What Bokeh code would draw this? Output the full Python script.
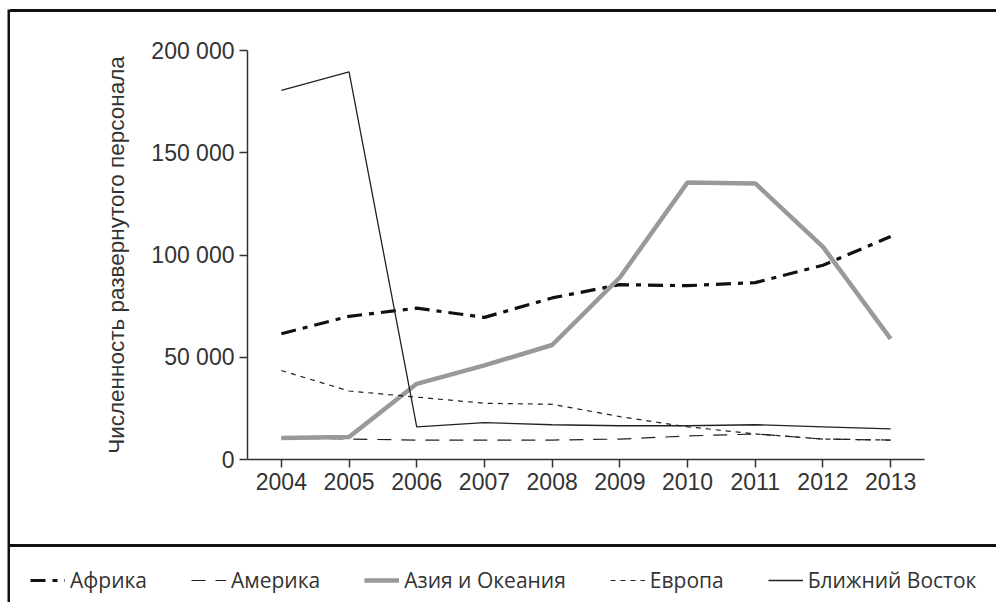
from bokeh.plotting import figure
from bokeh.models import Range1d, FixedTicker, Legend, LegendItem, Div
from bokeh.layouts import column, row
from bokeh.embed import file_html
from bokeh.resources import INLINE

years = [2004, 2005, 2006, 2007, 2008, 2009, 2010, 2011, 2012, 2013]
africa = [61500, 70000, 74000, 69500, 79000, 85500, 85000, 86500, 95000, 109000]
america = [10500, 10000, 9500, 9500, 9500, 10000, 11500, 12500, 10000, 9500]
asia = [10500, 11000, 37000, 46000, 56000, 89000, 135500, 135000, 104000, 59000]
europe = [43500, 33500, 30500, 27500, 27000, 21000, 16000, 12500, 10000, 9500]
near_east = [180500, 189500, 16000, 18000, 17000, 16500, 16500, 17000, 16000, 15000]

y_ticks = [0, 50000, 100000, 150000, 200000]
y_tick_labels = ["0", "50 000", "100 000", "150 000", "200 000"]
y_title = "Численность развернутого персонала"
names = ["Африка", "Америка", "Азия и Океания", "Европа", "Ближний Восток"]

styles = [
    dict(line_color="#111111", line_width=3.2, line_dash="15 7 5 7"),
    dict(line_color="#222222", line_width=1.2, line_dash="14 10"),
    dict(line_color="#999999", line_width=4.5),
    dict(line_color="#222222", line_width=1.2, line_dash="5 5"),
    dict(line_color="#222222", line_width=1.3),
]
series = [africa, america, asia, europe, near_east]

W = 986
H = 532
LH = 55
BW = 3


def vrule(width, height):
    f = figure(width=width, height=height, output_backend="svg", toolbar_location=None,
               title=None, min_border=0, x_axis_location=None, y_axis_location=None,
               x_range=Range1d(0, 1), y_range=Range1d(0, 1))
    f.frame_align = False
    f.grid.visible = False
    f.outline_line_color = None
    f.background_fill_color = "#111111"
    f.border_fill_color = "#111111"
    return f


def hrule(width, height):
    return Div(text="", width=width, height=height, margin=0,
               styles={"background-color": "#111111", "overflow": "hidden"})


p = figure(width=W, height=H, output_backend="svg", toolbar_location=None,
           x_range=Range1d(2003.5, 2013.5), y_range=Range1d(0, 200000),
           min_border_left=237, min_border_right=72, min_border_top=38, min_border_bottom=85)
p.frame_align = False
p.outline_line_color = None
p.grid.visible = False

for s, st in zip(series, styles):
    p.line(years, s, **st)

p.xaxis.ticker = FixedTicker(ticks=years)
p.yaxis.ticker = FixedTicker(ticks=y_ticks)
p.yaxis.major_label_overrides = {t: l for t, l in zip(y_ticks, y_tick_labels)}
p.yaxis.axis_label = y_title
for ax in (p.xaxis[0], p.yaxis[0]):
    ax.axis_line_color = "#333333"
    ax.axis_line_width = 1.5
    ax.major_tick_line_color = "#333333"
    ax.major_tick_line_width = 1.5
    ax.major_tick_in = 0
    ax.major_tick_out = 8
    ax.minor_tick_line_color = None
    ax.major_label_text_font = "Liberation Sans"
    ax.major_label_text_font_size = "23px"
    ax.major_label_text_color = "#333333"
    ax.major_label_standoff = 5
    ax.axis_label_text_font = "Liberation Sans"
    ax.axis_label_text_font_size = "22.5px"
    ax.axis_label_text_font_style = "normal"
    ax.axis_label_text_color = "#333333"
p.yaxis.axis_label_standoff = 19

# legend panel (series drawn off-range so that only the legend shows)
lp = figure(width=W, height=LH, output_backend="svg", toolbar_location=None,
            title=None, x_range=Range1d(0, 1), y_range=Range1d(0, 1), min_border=0,
            x_axis_location=None, y_axis_location=None)
lp.frame_align = False
lp.grid.visible = False
lp.outline_line_color = None
items = []
for name, s, st in zip(names, series, styles):
    r = lp.line(years, s, **st)
    items.append(LegendItem(label=name, renderers=[r]))
leg = Legend(items=items, orientation="horizontal", location=(20, 8),
             border_line_color=None, background_fill_alpha=0, padding=0, margin=0,
             glyph_width=35, glyph_height=22, label_height=22, label_standoff=5, spacing=44,
             label_text_font="Open Sans", label_text_font_size="21px", label_text_color="#333333")
lp.add_layout(leg)

right_col = column(hrule(W, BW), p, hrule(W, BW), lp, spacing=0)
layout = row(vrule(BW, BW + H + BW + LH), right_col, spacing=0, margin=(9, 0, 0, 7))
open("out.html", "w").write(file_html(layout, INLINE))
